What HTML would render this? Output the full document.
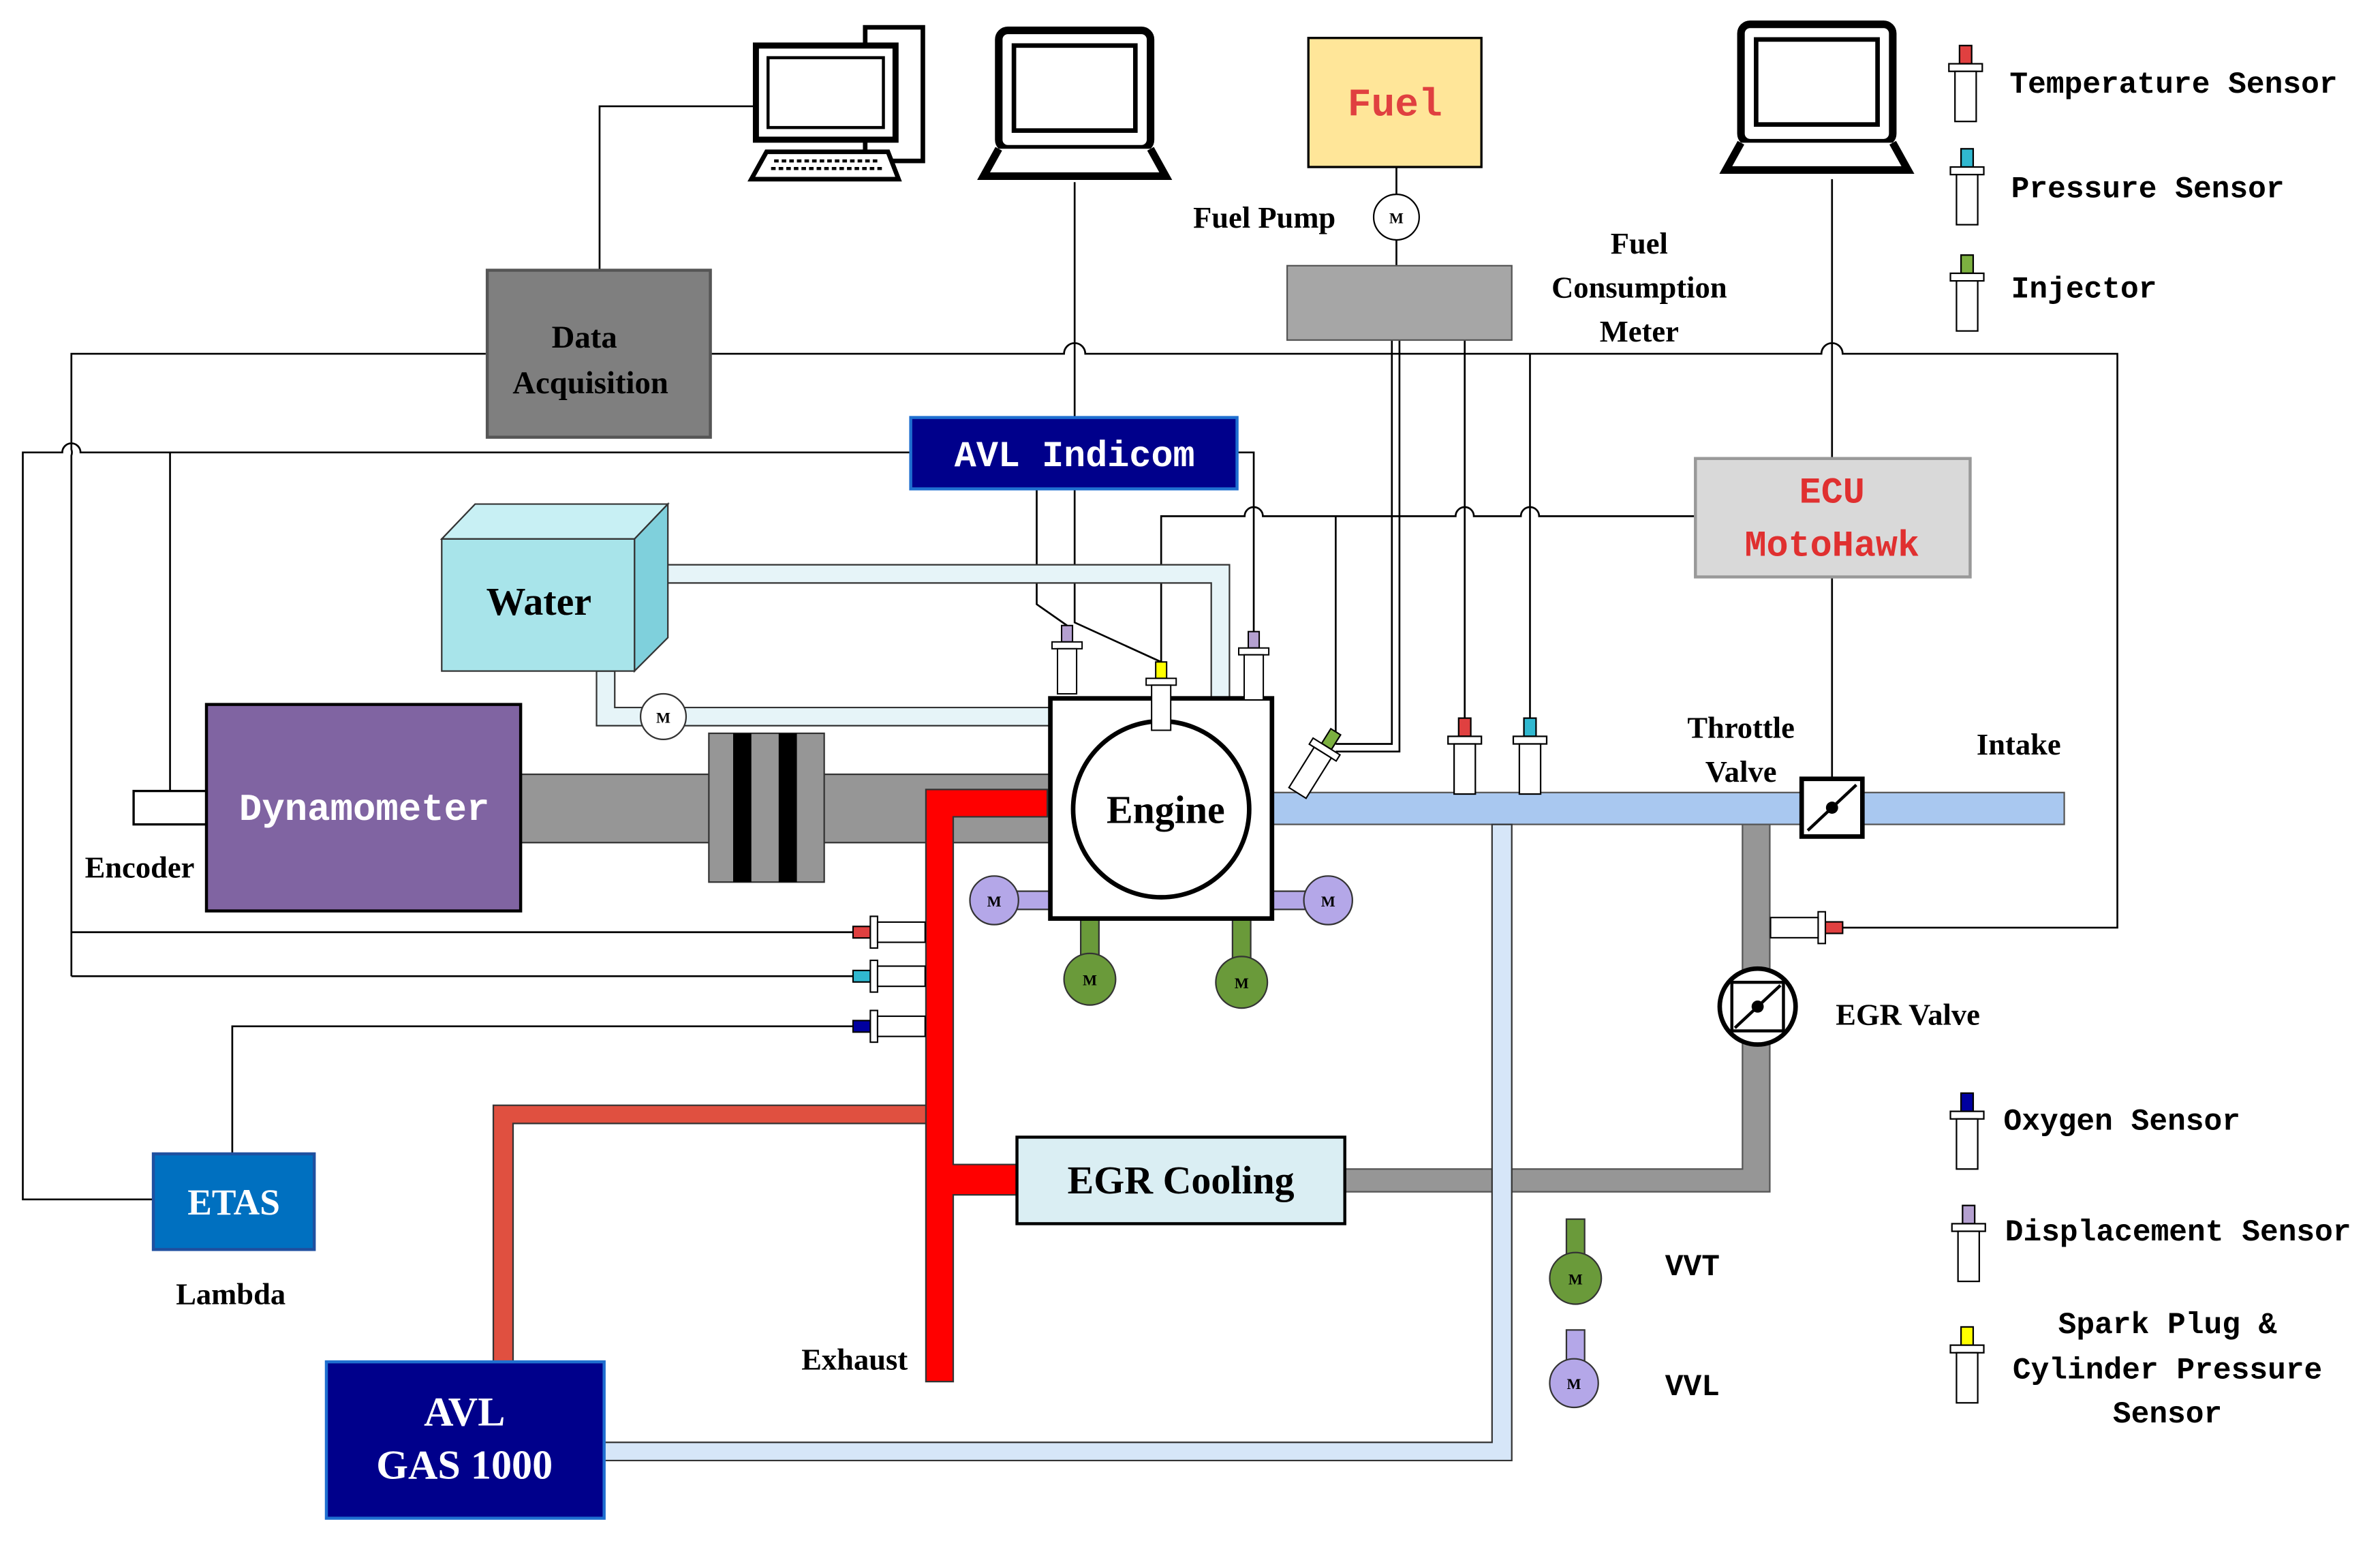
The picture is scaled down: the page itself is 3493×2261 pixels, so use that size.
<!DOCTYPE html>
<html><head><meta charset="utf-8"><style>
html,body{margin:0;padding:0;background:#fff;}
svg{display:block;}
.t{font-family:"Liberation Serif",serif;font-weight:bold;}
.m{font-family:"Liberation Mono",monospace;font-weight:bold;}
</style></head><body>
<svg width="3493" height="2261" viewBox="0 0 1568 1015" xmlns="http://www.w3.org/2000/svg">
<defs>
<g id="sen">
<rect x="-4" y="0" width="8" height="12" fill="currentColor" stroke="#000" stroke-width="1"/>
<rect x="-11" y="12" width="22" height="5" fill="#fff" stroke="#000" stroke-width="1"/>
<rect x="-7" y="17" width="14" height="33" fill="#fff" stroke="#000" stroke-width="1"/>
</g>
<g id="lap">
<rect x="10" y="0" width="100" height="78" rx="6" fill="#fff" stroke="#000" stroke-width="5"/>
<rect x="20" y="10" width="80" height="56" fill="#fff" stroke="#000" stroke-width="3"/>
<path d="M10,78 L0,96 L120,96 L110,78" fill="#fff" stroke="#000" stroke-width="5"/>
</g>
</defs>
<g fill="none" stroke="#000" stroke-width="1.2">
<path d="M47,643 L47,300 A6,6 0 0 0 47,296 L47,233 L320,233 M468,233 L701,233 A7,7 0 0 1 715,233 L1200,233 A7,7 0 0 1 1214,233 L1395,233 L1395,611 L1212,611"/>
<path d="M47,614 L565,614 M47,643 L565,643"/>
<path d="M101,790 L15,790 L15,298 L41,298 A6,6 0 0 1 53,298 L600,298"/>
<path d="M112,298 L112,521"/>
<path d="M153,760 L153,676 L565,676"/>
<path d="M395,178 L395,70 L497,70"/>
<path d="M708,120 L708,410 L765,436"/>
<path d="M683,322 L683,398 L703,412"/>
<path d="M815,298 L826,298 L826,416"/>
<path d="M765,436 L765,340 L820,340 A6,6 0 0 1 832,340 L959,340 A6,6 0 0 1 971,340 L1002,340 A6,6 0 0 1 1014,340 L1117,340"/>
<path d="M880,340 L880,485"/>
<path d="M965,224 L965,473 M1008,233 L1008,473"/>
<path d="M917,224 L917,490 L880,490 M922,224 L922,495 L880,495"/>
<path d="M1207,118 L1207,302 M1207,380 L1207,513"/>
<path d="M920,110 L920,128 M920,158 L920,175"/>
</g>
<g stroke="#000" fill="#fff">
<rect x="570" y="18" width="38" height="88" stroke-width="3"/>
<rect x="498" y="30" width="92" height="62" stroke-width="4"/>
<rect x="506" y="38" width="76" height="46" stroke-width="2"/>
<path d="M505,100 L585,100 L592,118 L495,118 Z" stroke-width="3"/>
<path d="M510,106 L580,106 M508,111 L583,111" stroke-width="2" stroke-dasharray="3 2"/>
</g>
<use href="#lap" x="648" y="20"/>
<use href="#lap" x="1137" y="16"/>
<rect x="862" y="25" width="114" height="85" fill="#ffe699" stroke="#000" stroke-width="1.5"/>
<text x="919" y="76" class="m" font-size="26" fill="#e04040" text-anchor="middle" font-weight="normal">Fuel</text>
<circle cx="920" cy="143" r="15" fill="#fff" stroke="#000"/>
<text x="920" y="147" class="t" font-size="10" text-anchor="middle">M</text>
<text x="833" y="150" class="t" font-size="20" text-anchor="middle">Fuel Pump</text>
<rect x="848" y="175" width="148" height="49" fill="#a6a6a6" stroke="#555"/>
<text class="t" font-size="20" text-anchor="middle"><tspan x="1080" y="167">Fuel</tspan><tspan x="1080" y="196">Consumption</tspan><tspan x="1080" y="225">Meter</tspan></text>
<rect x="321" y="178" width="147" height="110" fill="#7f7f7f" stroke="#555" stroke-width="2"/>
<text class="t" font-size="21" text-anchor="middle"><tspan x="385" y="229">Data</tspan><tspan x="389" y="259">Acquisition</tspan></text>
<rect x="600" y="275" width="215" height="47" fill="#00008b" stroke="#1f6fd0" stroke-width="2"/>
<text x="708" y="307" class="m" font-size="24" fill="#fff" text-anchor="middle" font-weight="normal">AVL Indicom</text>
<rect x="1117" y="302" width="181" height="78" fill="#d9d9d9" stroke="#999" stroke-width="2"/>
<text class="m" font-size="24" fill="#e03030" text-anchor="middle" font-weight="normal"><tspan x="1207" y="331">ECU</tspan><tspan x="1207" y="366">MotoHawk</tspan></text>
<path d="M430,372 L810,372 L810,462 L798,462 L798,384 L430,384 Z" fill="#e6f4f8" stroke="#333"/>
<path d="M393,442 L393,478 L697,478 L697,466 L405,466 L405,442 Z" fill="#e6f4f8" stroke="#333"/>
<circle cx="437" cy="472" r="15" fill="#fff" stroke="#333"/>
<text x="437" y="476" class="t" font-size="10" text-anchor="middle">M</text>
<path d="M291,355 L313,332 L440,332 L418,355 Z" fill="#c8f0f4" stroke="#333"/>
<path d="M418,355 L440,332 L440,420 L418,442 Z" fill="#7fd0dc" stroke="#333"/>
<rect x="291" y="355" width="127" height="87" fill="#a8e4ea" stroke="#333"/>
<text x="355" y="405" class="t" font-size="26" font-weight="normal" text-anchor="middle">Water</text>
<rect x="343" y="510" width="350" height="45" fill="#969696" stroke="#333"/>
<rect x="467" y="483" width="76" height="98" fill="#969696" stroke="#333"/>
<rect x="483" y="483" width="12" height="98" fill="#000"/>
<rect x="513" y="483" width="12" height="98" fill="#000"/>
<rect x="88" y="521" width="48" height="22" fill="#fff" stroke="#000" stroke-width="1.5"/>
<rect x="136" y="464" width="207" height="136" fill="#8064a2" stroke="#000" stroke-width="2"/>
<text x="240" y="540" class="m" font-size="25" fill="#fff" text-anchor="middle" font-weight="normal">Dynamometer</text>
<text x="92" y="578" class="t" font-size="20" text-anchor="middle">Encoder</text>
<rect x="838" y="522" width="522" height="21" fill="#a9c8f0" stroke="#555"/>
<path d="M1148,543 L1166,543 L1166,785 L886,785 L886,770 L1148,770 Z" fill="#969696" stroke="#555"/>
<path d="M398,950 L983,950 L983,543 L996,543 L996,962 L398,962 Z" fill="#d6e6f8" stroke="#333"/>
<path d="M610,520 L690,520 L690,538 L628,538 L628,767 L670,767 L670,787 L628,787 L628,910 L610,910 Z" fill="#ff0000" stroke="#333"/>
<path d="M325,897 L325,728 L610,728 L610,740 L338,740 L338,897 Z" fill="#e05040" stroke="#333"/>
<text x="563" y="902" class="t" font-size="20" text-anchor="middle">Exhaust</text>
<rect x="668" y="587" width="24" height="12" fill="#b4a7e8" stroke="#333"/>
<rect x="838" y="587" width="24" height="12" fill="#b4a7e8" stroke="#333"/>
<circle cx="655" cy="593" r="16" fill="#b4a7e8" stroke="#333"/>
<circle cx="875" cy="593" r="16" fill="#b4a7e8" stroke="#333"/>
<rect x="712" y="605" width="12" height="26" fill="#6a9a3a" stroke="#333"/>
<rect x="812" y="605" width="12" height="26" fill="#6a9a3a" stroke="#333"/>
<circle cx="718" cy="645" r="17" fill="#6a9a3a" stroke="#333"/>
<circle cx="818" cy="647" r="17" fill="#6a9a3a" stroke="#333"/>
<g class="t" font-size="10" text-anchor="middle" font-weight="normal"><text x="655" y="597">M</text><text x="875" y="597">M</text><text x="718" y="649">M</text><text x="818" y="651">M</text></g>
<rect x="692" y="460" width="146" height="145" fill="#fff" stroke="#000" stroke-width="3"/>
<circle cx="765" cy="533" r="58" fill="#fff" stroke="#000" stroke-width="3"/>
<text x="768" y="542" class="t" font-size="26" text-anchor="middle">Engine</text>
<use href="#sen" transform="translate(703,412) scale(0.9)" style="color:#b4a0d0"/>
<use href="#sen" transform="translate(765,436) scale(0.9)" style="color:#ffff00"/>
<use href="#sen" transform="translate(826,416) scale(0.9)" style="color:#b4a0d0"/>
<use href="#sen" transform="translate(880,482) rotate(32) scale(0.95)" style="color:#7cb040"/>
<use href="#sen" transform="translate(965,473)" style="color:#e04040"/>
<use href="#sen" transform="translate(1008,473)" style="color:#30b8d0"/>
<use href="#sen" transform="translate(562,614) rotate(-90) scale(0.95)" style="color:#e04040"/>
<use href="#sen" transform="translate(562,643) rotate(-90) scale(0.95)" style="color:#30b8d0"/>
<use href="#sen" transform="translate(562,676) rotate(-90) scale(0.95)" style="color:#0000a0"/>
<use href="#sen" transform="translate(1214,611) rotate(90) scale(0.95)" style="color:#e04040"/>
<rect x="1187" y="513" width="40" height="38" fill="#fff" stroke="#000" stroke-width="3"/>
<path d="M1191,547 L1223,517" stroke="#000" stroke-width="2"/>
<circle cx="1207" cy="532" r="4" fill="#000"/>
<text class="t" font-size="20" text-anchor="middle"><tspan x="1147" y="486">Throttle</tspan><tspan x="1147" y="515">Valve</tspan></text>
<text x="1330" y="497" class="t" font-size="20" text-anchor="middle">Intake</text>
<circle cx="1158" cy="663" r="25" fill="#fff" stroke="#000" stroke-width="3"/>
<rect x="1141" y="647" width="34" height="32" fill="#fff" stroke="#000" stroke-width="2"/>
<path d="M1143,677 L1173,649" stroke="#000" stroke-width="2"/>
<circle cx="1158" cy="663" r="4" fill="#000"/>
<text x="1257" y="675" class="t" font-size="20" text-anchor="middle">EGR Valve</text>
<rect x="670" y="749" width="216" height="57" fill="#daeef3" stroke="#000" stroke-width="2"/>
<text x="778" y="786" class="t" font-size="26" text-anchor="middle">EGR Cooling</text>
<rect x="101" y="760" width="106" height="63" fill="#0070c0" stroke="#1f50a0" stroke-width="2"/>
<text x="154" y="800" class="t" font-size="24" fill="#fff" font-weight="normal" text-anchor="middle">ETAS</text>
<text x="152" y="859" class="t" font-size="20" text-anchor="middle">Lambda</text>
<rect x="215" y="897" width="183" height="103" fill="#00008b" stroke="#1f6fd0" stroke-width="2"/>
<text class="t" font-size="27" fill="#fff" font-weight="normal" text-anchor="middle"><tspan x="306" y="939">AVL</tspan><tspan x="306" y="974">GAS 1000</tspan></text>
<rect x="1032" y="803" width="12" height="25" fill="#6a9a3a" stroke="#333"/>
<circle cx="1038" cy="842" r="17" fill="#6a9a3a" stroke="#333"/>
<rect x="1032" y="876" width="12" height="22" fill="#b4a7e8" stroke="#333"/>
<circle cx="1037" cy="911" r="16" fill="#b4a7e8" stroke="#333"/>
<g class="t" font-size="10" font-weight="normal" text-anchor="middle"><text x="1038" y="846">M</text><text x="1037" y="915">M</text></g>
<text x="1097" y="840" class="m" font-size="20" font-weight="normal">VVT</text>
<text x="1097" y="919" class="m" font-size="20" font-weight="normal">VVL</text>
<use href="#sen" x="1295" y="30" style="color:#e04040"/>
<use href="#sen" x="1296" y="98" style="color:#30b8d0"/>
<use href="#sen" x="1296" y="168" style="color:#7cb040"/>
<use href="#sen" x="1296" y="720" style="color:#0000a0"/>
<use href="#sen" x="1297" y="794" style="color:#b4a0d0"/>
<use href="#sen" x="1296" y="874" style="color:#ffff00"/>
<g class="m" font-size="20">
<text x="1324" y="61">Temperature Sensor</text>
<text x="1325" y="130">Pressure Sensor</text>
<text x="1325" y="196">Injector</text>
<text x="1320" y="744">Oxygen Sensor</text>
<text x="1321" y="817">Displacement Sensor</text>
<text x="1428" y="878" text-anchor="middle">Spark Plug &amp;</text>
<text x="1428" y="908" text-anchor="middle">Cylinder Pressure</text>
<text x="1428" y="937" text-anchor="middle">Sensor</text>
</g>
</svg>
</body></html>
